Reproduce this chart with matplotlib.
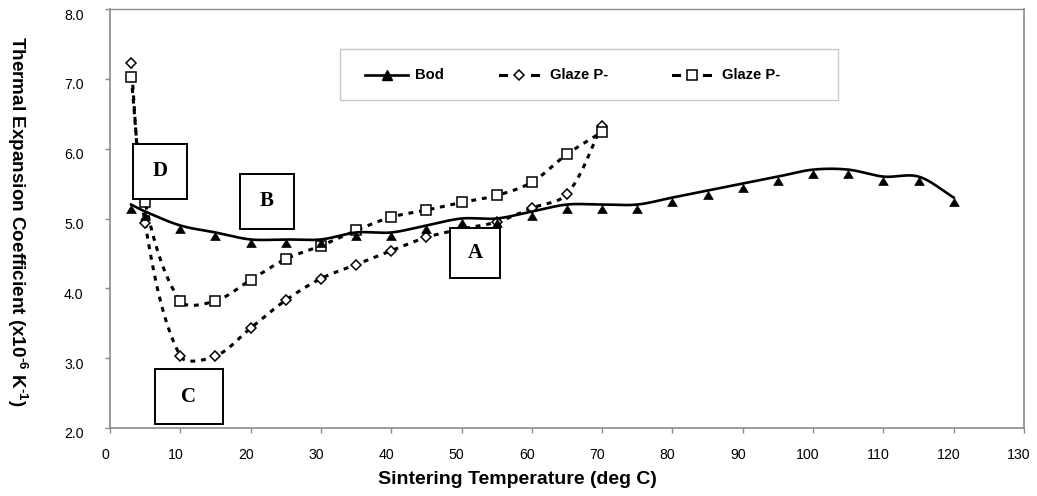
import numpy as np
import matplotlib
matplotlib.use("Agg")
import matplotlib.pyplot as plt
import matplotlib.transforms as mtransforms
from matplotlib.lines import Line2D
from matplotlib.patches import Rectangle
from matplotlib.path import Path

# ---------------- data ----------------
bod_x = [3, 5, 10, 15, 20, 25, 30, 35, 40, 45, 50, 55, 60, 65, 70, 75,
         80, 85, 90, 95, 100, 105, 110, 115, 120]
bod_y = [5.2, 5.1, 4.9, 4.8, 4.7, 4.7, 4.7, 4.8, 4.8, 4.9, 5.0, 5.0, 5.1,
         5.2, 5.2, 5.2, 5.3, 5.4, 5.5, 5.6, 5.7, 5.7, 5.6, 5.6, 5.3]

glaze_x = [3, 5, 10, 15, 20, 25, 30, 35, 40, 45, 50, 55, 60, 65, 70]
glaze_d_y = [7.22, 4.93, 3.03, 3.03, 3.43, 3.83, 4.14, 4.34, 4.54, 4.73,
             4.85, 4.95, 5.15, 5.35, 6.33]
glaze_s_y = [7.02, 5.23, 3.82, 3.82, 4.12, 4.42, 4.61, 4.83, 5.02, 5.12,
             5.23, 5.33, 5.52, 5.92, 6.24]

series_labels = ["Bod", "Glaze P-", "Glaze P-"]
x_ticks = list(range(0, 131, 10))
y_ticks = [2.0, 3.0, 4.0, 5.0, 6.0, 7.0, 8.0]
box_letters = ["D", "B", "C", "A"]

# ---------------- style ----------------
plt.rcParams['font.family'] = ['Liberation Sans', 'DejaVu Sans']
plt.rcParams['mathtext.fontset'] = 'custom'
plt.rcParams['mathtext.rm'] = 'Liberation Sans:bold'
plt.rcParams['mathtext.it'] = 'Liberation Sans:bold'
plt.rcParams['mathtext.bf'] = 'Liberation Sans:bold'

W, H = 1037, 496
fig = plt.figure(figsize=(W / 100, H / 100), dpi=100)
ax_l, ax_r, ax_t, ax_b = 110, 1024, 9, 428
ax = fig.add_axes([ax_l / W, 1 - ax_b / H, (ax_r - ax_l) / W, (ax_b - ax_t) / H])
ax.set_xlim(0, 130)
ax.set_ylim(2.0, 8.0)

sx = (ax_r - ax_l) / 130.0
sy = (ax_b - ax_t) / 6.0


def smooth(x, y, n=40, tension=1.0 / 3.0):
    P = np.column_stack([np.asarray(x, float) * sx, np.asarray(y, float) * sy])
    m = len(P)
    cin = np.zeros_like(P)
    cout = np.zeros_like(P)
    for i in range(m):
        p0 = P[i - 1] if i > 0 else P[i]
        p2 = P[i + 1] if i < m - 1 else P[i]
        d01 = np.hypot(*(P[i] - p0))
        d12 = np.hypot(*(p2 - P[i]))
        tot = d01 + d12 if d01 + d12 > 0 else 1.0
        cin[i] = P[i] - tension * d01 / tot * (p2 - p0)
        cout[i] = P[i] + tension * d12 / tot * (p2 - p0)
    out = []
    t = np.linspace(0, 1, n)[:, None]
    for i in range(m - 1):
        p1, p2 = P[i], P[i + 1]
        c1, c2 = cout[i], cin[i + 1]
        seg = ((1 - t) ** 3) * p1 + 3 * ((1 - t) ** 2) * t * c1 + 3 * (1 - t) * t ** 2 * c2 + t ** 3 * p2
        out.append(seg if i == 0 else seg[1:])
    out = np.vstack(out)
    return out[:, 0] / sx, out[:, 1] / sy


# apex-anchored triangle marker (as in the reference)
tri_path = Path([(0, 0), (-0.6, -1), (0.6, -1), (0, 0)],
                [Path.MOVETO, Path.LINETO, Path.LINETO, Path.CLOSEPOLY])

dash = (1.6, 1.9)
lw_dot = 2.2

# glaze lines
xs, ys = smooth(glaze_x, glaze_d_y)
ax.plot(xs, ys, color='black', lw=lw_dot, dashes=dash, zorder=2)
xs, ys = smooth(glaze_x, glaze_s_y)
ax.plot(xs, ys, color='black', lw=lw_dot, dashes=dash, zorder=2)
ax.plot(glaze_x, glaze_d_y, linestyle='none', marker='D', ms=5.0,
        mfc='white', mec='black', mew=1.1, zorder=3)
ax.plot(glaze_x, glaze_s_y, linestyle='none', marker='s', ms=7.0,
        mfc='white', mec='black', mew=1.1, zorder=3)

# bod line
xs, ys = smooth(bod_x, bod_y)
ax.plot(xs, ys, color='black', lw=1.9, zorder=4)
ax.plot(bod_x, bod_y, linestyle='none', marker=tri_path, ms=11.5,
        mfc='black', mec='black', mew=0.5, zorder=4)

# axes styling
for s in ax.spines.values():
    s.set_color('#8a8a8a')
    s.set_linewidth(1.2)
ax.spines['top'].set_linewidth(1.0)
ax.set_xticks(x_ticks)
ax.set_yticks(y_ticks)
ax.set_xticklabels([str(v) for v in x_ticks])
ax.set_yticklabels([f"{v:.1f}" for v in y_ticks])
ax.tick_params(axis='both', direction='out', length=3.5, width=1.0,
               color='#8a8a8a', labelsize=10.2, labelcolor='black')
ax.tick_params(axis='y', pad=15.5)
ax.tick_params(axis='x', pad=11)
# Excel-like small offsets of the tick labels
xoff = mtransforms.ScaledTranslation(-5 / 100, 0, fig.dpi_scale_trans)
for lab in ax.get_xticklabels():
    lab.set_transform(lab.get_transform() + xoff)
yoff = mtransforms.ScaledTranslation(0, -5 / 100, fig.dpi_scale_trans)
for lab in ax.get_yticklabels():
    lab.set_transform(lab.get_transform() + yoff)

# axis titles
fig.text(517 / W, 1 - 479 / H, "Sintering Temperature (deg C)", ha='center',
         va='center', fontsize=14, fontweight='bold')
fig.text(17 / W, 1 - 221 / H,
         r"Thermal Expansion Coefficient (x10$^{\text{-}6}$ K$^{\text{-}1}$)",
         ha='center', va='center', rotation=-90, fontsize=13.6, fontweight='bold')

# legend (drawn manually to match the reference layout)
fig.add_artist(Rectangle((340 / W, 1 - 100 / H), 498 / W, 51 / H,
                         transform=fig.transFigure, facecolor='white',
                         edgecolor='#c8c8c8', linewidth=1.0, zorder=5))
ly = 1 - 75 / H
tf = fig.transFigure
fig.add_artist(Line2D([365 / W, 408 / W], [ly, ly], color='black', lw=1.9,
                      transform=tf, zorder=6))
fig.add_artist(Line2D([386.5 / W], [ly], color='black', marker='^', ms=7,
                      mfc='black', linestyle='none', transform=tf, zorder=7))
for (a, b), mk, ms in [((500, 538), 'D', 5.0), ((673, 710), 's', 6.5)]:
    fig.add_artist(Line2D([a / W, (a + 6) / W], [ly, ly], color='black',
                          lw=lw_dot, transform=tf, zorder=6))
    fig.add_artist(Line2D([(b - 6) / W, b / W], [ly, ly], color='black',
                          lw=lw_dot, transform=tf, zorder=6))
    fig.add_artist(Line2D([(a + b) / 2 / W], [ly], color='black', marker=mk,
                          ms=ms, mfc='white', mec='black', mew=1.1,
                          linestyle='none', transform=tf, zorder=7))
for xpos, lab in zip([415, 550, 722], series_labels):
    fig.text(xpos / W, ly, lab, ha='left', va='center', fontsize=10.6,
             fontweight='bold', zorder=7)

# letter boxes (pixel layout: left, top, right, bottom)
box_px = [(133, 144, 187, 199), (240, 174, 294, 229),
          (155, 369, 223, 424), (450, 228, 500, 278)]
for letter, (l, t, r, b) in zip(box_letters, box_px):
    rect = Rectangle((l / W, 1 - b / H), (r - l) / W, (b - t) / H,
                     transform=fig.transFigure, facecolor='white',
                     edgecolor='black', linewidth=1.4, zorder=10)
    fig.add_artist(rect)
    fig.text((l + r) / 2 / W, 1 - (t + b) / 2 / H, letter, ha='center',
             va='center', fontsize=15, fontweight='bold',
             family=['Liberation Serif', 'DejaVu Serif'], zorder=11)

fig.savefig('out.png', dpi=100, facecolor='white')
